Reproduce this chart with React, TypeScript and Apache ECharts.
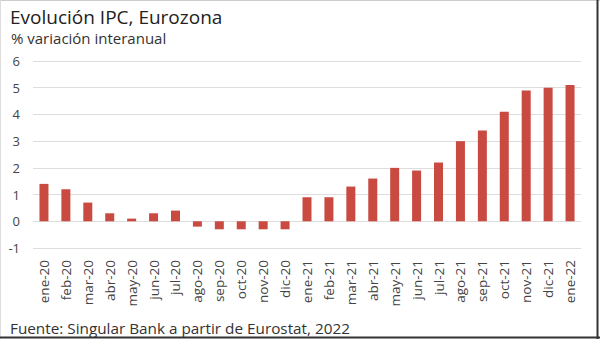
import React, { useEffect, useRef } from "react";
import * as echarts from "echarts";

const categories = [
  "ene-20", "feb-20", "mar-20", "abr-20", "may-20", "jun-20", "jul-20", "ago-20", "sep-20", "oct-20", "nov-20", "dic-20",
  "ene-21", "feb-21", "mar-21", "abr-21", "may-21", "jun-21", "jul-21", "ago-21", "sep-21", "oct-21", "nov-21", "dic-21",
  "ene-22",
];
const ipcValues = [
  1.4, 1.2, 0.7, 0.3, 0.1, 0.3, 0.4, -0.2, -0.3, -0.3, -0.3, -0.3,
  0.9, 0.9, 1.3, 1.6, 2.0, 1.9, 2.2, 3.0, 3.4, 4.1, 4.9, 5.0,
  5.1,
];
const yMin = -1;
const yMax = 6;
const yInterval = 1;

const FONT = "'Open Sans', 'Noto Sans', sans-serif";

export default function App() {
  const ref = useRef<HTMLDivElement>(null);
  useEffect(() => {
    if (!ref.current) return;
    const chart = echarts.init(ref.current, null, { renderer: "svg" });
    chart.setOption({
      animation: false,
      backgroundColor: "#ffffff",
      textStyle: { fontFamily: FONT },
      title: [
        {
          text: "Evolución IPC, Eurozona",
          left: 5,
          top: 2,
          textStyle: { fontFamily: FONT, fontSize: 19, fontWeight: "normal", color: "#222222" },
        },
        {
          text: "% variación interanual",
          left: 6,
          top: 25,
          textStyle: { fontFamily: FONT, fontSize: 15, fontWeight: "normal", color: "#333333" },
        },
        {
          text: "Fuente: Singular Bank a partir de Eurostat, 2022",
          left: 5,
          top: 315,
          textStyle: { fontFamily: FONT, fontSize: 15.3, fontWeight: "normal", color: "#333333" },
        },
      ],
      grid: { left: 33, right: 19, top: 61, bottom: 91, containLabel: false },
      xAxis: {
        type: "category",
        data: categories,
        axisLine: { show: false },
        axisTick: { show: false },
        axisLabel: {
          rotate: 90,
          interval: 0,
          fontFamily: FONT,
          fontSize: 13.5,
          color: "#444444",
          margin: 12,
        },
      },
      yAxis: {
        type: "value",
        min: yMin,
        max: yMax,
        interval: yInterval,
        axisLine: { show: false },
        axisTick: { show: false },
        splitLine: { lineStyle: { color: "#dddddd", width: 1 } },
        axisLabel: { fontFamily: FONT, fontSize: 13, color: "#444444", margin: 13 },
      },
      series: [
        {
          type: "bar",
          data: ipcValues,
          barWidth: 9,
          itemStyle: { color: "#c94a40" },
        },
      ],
      graphic: [
        { type: "line", shape: { x1: 0, y1: 0.5, x2: 600, y2: 0.5 }, style: { stroke: "#cccccc", lineWidth: 1 } },
        { type: "line", shape: { x1: 0.5, y1: 0, x2: 0.5, y2: 339 }, style: { stroke: "#dddddd", lineWidth: 1 } },
        { type: "line", shape: { x1: 597.5, y1: 0, x2: 597.5, y2: 339 }, style: { stroke: "#333333", lineWidth: 2 } },
        { type: "line", shape: { x1: 0, y1: 337.5, x2: 600, y2: 337.5 }, style: { stroke: "#333333", lineWidth: 2 } },
      ],
    });
    return () => chart.dispose();
  }, []);
  return <div ref={ref} style={{ position: "fixed", left: 0, top: 0, width: 600, height: 339 }} />;
}
